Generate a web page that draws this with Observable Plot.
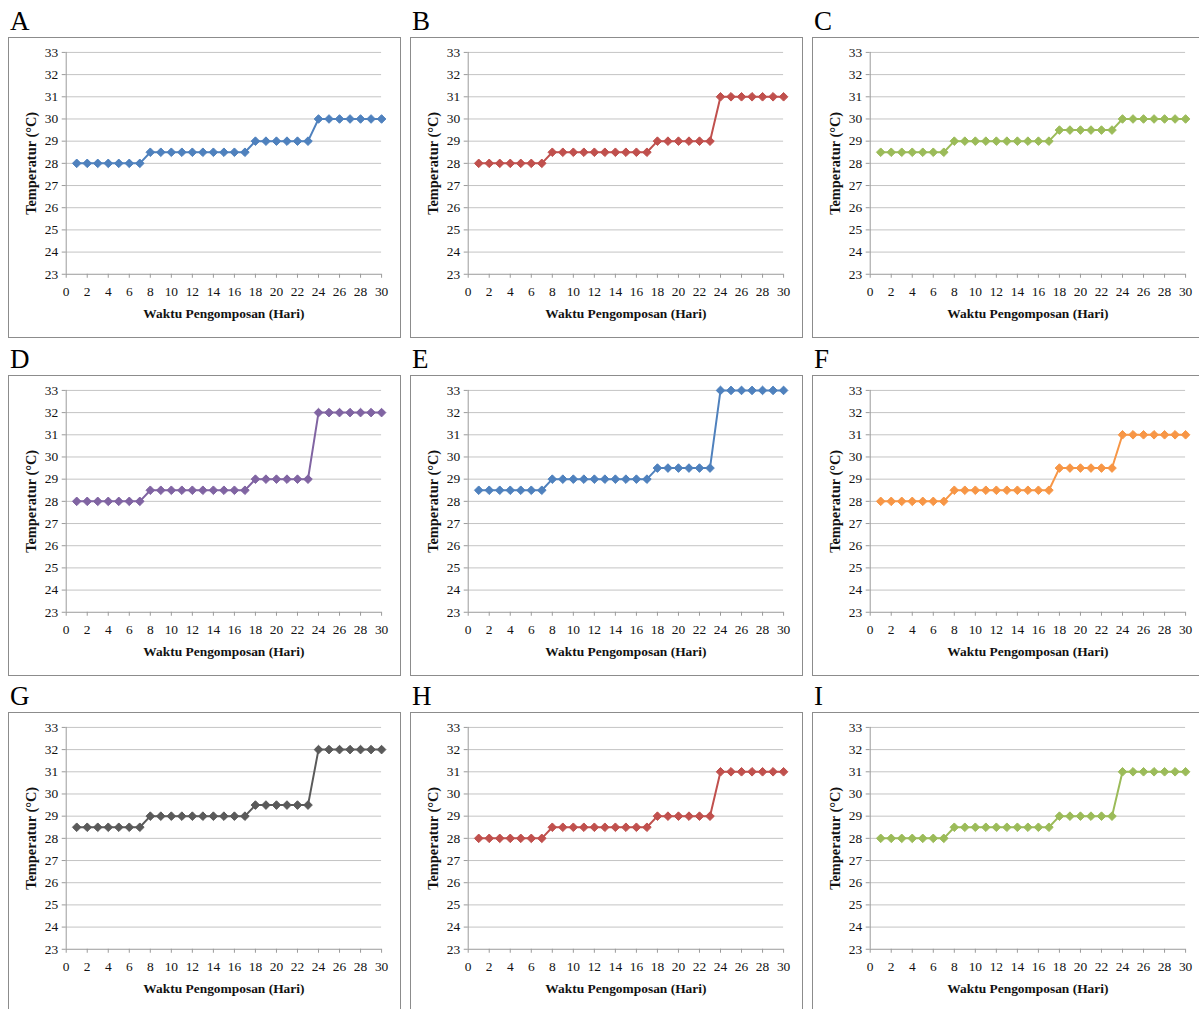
<!DOCTYPE html>
<html>
<head>
<meta charset="utf-8">
<script src="https://cdn.jsdelivr.net/npm/d3@7"></script>
<script src="https://cdn.jsdelivr.net/npm/@observablehq/plot@0.6"></script>
<style>
  html, body { margin: 0; padding: 0; background: #fff; }
  body { width: 1199px; height: 1009px; overflow: hidden; position: relative; font-family: "Liberation Serif", "DejaVu Serif", serif; }
  .letter { position: absolute; font-size: 27px; line-height: 1; color: #000; }
  .panel { position: absolute; width: 393px; height: 301px; border: 1px solid #8c8c8c; box-sizing: border-box; background: #fff; }
  .panel svg { position: absolute; left: -1px; top: -1px; overflow: visible; }
</style>
</head>
<body>
<script>
// ---- data ----
const panelNames = ["A", "B", "C", "D", "E", "F", "G", "H", "I"];
const panelColors = ["#4f81bd", "#c0504d", "#9bbb59", "#8064a2", "#4f81bd", "#f79646", "#5a5a5a", "#c0504d", "#9bbb59"];
const days = [1,2,3,4,5,6,7,8,9,10,11,12,13,14,15,16,17,18,19,20,21,22,23,24,25,26,27,28,29,30];
const tempA = [28,28,28,28,28,28,28,28.5,28.5,28.5,28.5,28.5,28.5,28.5,28.5,28.5,28.5,29,29,29,29,29,29,30,30,30,30,30,30,30];
const tempB = [28,28,28,28,28,28,28,28.5,28.5,28.5,28.5,28.5,28.5,28.5,28.5,28.5,28.5,29,29,29,29,29,29,31,31,31,31,31,31,31];
const tempC = [28.5,28.5,28.5,28.5,28.5,28.5,28.5,29,29,29,29,29,29,29,29,29,29,29.5,29.5,29.5,29.5,29.5,29.5,30,30,30,30,30,30,30];
const tempD = [28,28,28,28,28,28,28,28.5,28.5,28.5,28.5,28.5,28.5,28.5,28.5,28.5,28.5,29,29,29,29,29,29,32,32,32,32,32,32,32];
const tempE = [28.5,28.5,28.5,28.5,28.5,28.5,28.5,29,29,29,29,29,29,29,29,29,29,29.5,29.5,29.5,29.5,29.5,29.5,33,33,33,33,33,33,33];
const tempF = [28,28,28,28,28,28,28,28.5,28.5,28.5,28.5,28.5,28.5,28.5,28.5,28.5,28.5,29.5,29.5,29.5,29.5,29.5,29.5,31,31,31,31,31,31,31];
const tempG = [28.5,28.5,28.5,28.5,28.5,28.5,28.5,29,29,29,29,29,29,29,29,29,29,29.5,29.5,29.5,29.5,29.5,29.5,32,32,32,32,32,32,32];
const tempH = [28,28,28,28,28,28,28,28.5,28.5,28.5,28.5,28.5,28.5,28.5,28.5,28.5,28.5,29,29,29,29,29,29,31,31,31,31,31,31,31];
const tempI = [28,28,28,28,28,28,28,28.5,28.5,28.5,28.5,28.5,28.5,28.5,28.5,28.5,28.5,29,29,29,29,29,29,31,31,31,31,31,31,31];
const xTicks = [0,2,4,6,8,10,12,14,16,18,20,22,24,26,28,30];
const yTicks = [23,24,25,26,27,28,29,30,31,32,33];
const xLabel = "Waktu Pengomposan (Hari)";
const yLabel = "Temperatur (°C)";

const allTemps = [tempA, tempB, tempC, tempD, tempE, tempF, tempG, tempH, tempI];

// ---- layout ----
const colX = [8, 410, 812];
const rowY = [37, 375, 712];

panelNames.forEach((name, i) => {
  const col = i % 3, row = Math.floor(i / 3);
  const left = colX[col], top = rowY[row];

  const letter = document.createElement("div");
  letter.className = "letter";
  letter.textContent = name;
  letter.style.left = (left + 2) + "px";
  letter.style.top = (top - 29) + "px";
  document.body.appendChild(letter);

  const box = document.createElement("div");
  box.className = "panel";
  box.style.left = left + "px";
  box.style.top = top + "px";
  document.body.appendChild(box);

  const data = days.map((d, k) => ({day: d, temp: allTemps[i][k]}));
  const color = panelColors[i];

  const chart = Plot.plot({
    width: 393,
    height: 301,
    marginLeft: 58,
    marginRight: 18,
    marginTop: 15,
    marginBottom: 63,
    style: {fontFamily: "'Liberation Serif', serif", fontSize: "13.5px", color: "#111", background: "transparent"},
    x: {domain: [0, 30], ticks: xTicks},
    y: {domain: [23, 33], ticks: yTicks},
    marks: [
      Plot.ruleY(yTicks.slice(1), {stroke: "#c4c4c4", strokeWidth: 1}),
      Plot.ruleY([23], {stroke: "#9a9a9a", strokeWidth: 1}),
      Plot.ruleX([0], {stroke: "#9a9a9a", strokeWidth: 1}),
      Plot.axisX({ticks: xTicks, tickSize: 4, tickPadding: 8, stroke: "#9a9a9a", label: null, fill: "#111", fontSize: 13.5}),
      Plot.axisY({ticks: yTicks, tickSize: 4, tickPadding: 4, stroke: "#9a9a9a", label: null, fill: "#111", fontSize: 13.5}),
      Plot.line(data, {x: "day", y: "temp", stroke: color, strokeWidth: 2}),
      Plot.dot(data, {x: "day", y: "temp", symbol: "diamond2", r: 3.9, fill: color, stroke: color, strokeWidth: 1}),
      Plot.text([xLabel], {frameAnchor: "bottom", dy: 44, text: d => d, fontWeight: "bold", fontSize: 13.5, fill: "#111"}),
      Plot.text([yLabel], {frameAnchor: "left", textAnchor: "middle", dx: -35, rotate: -90, text: d => d, fontWeight: "bold", fontSize: 14.5, fill: "#111"})
    ]
  });
  box.appendChild(chart);
});
</script>
</body>
</html>
